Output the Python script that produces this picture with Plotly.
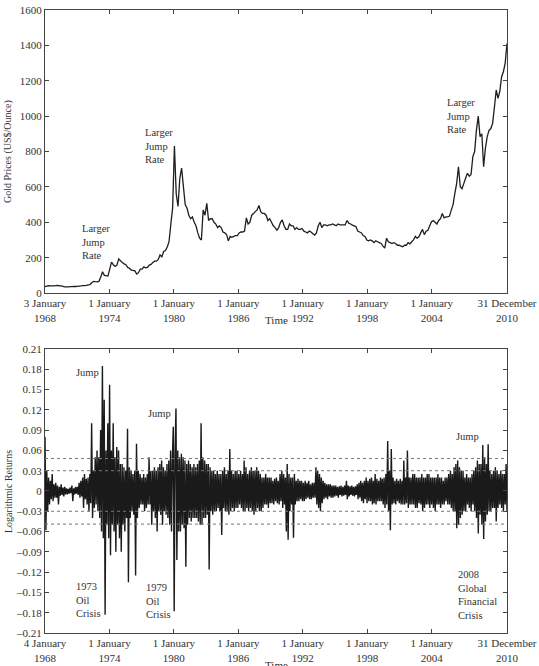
import pandas as pd
import plotly.graph_objects as go

# ---------------- data ----------------
price_start, price_end = "1968-01-03", "2010-12-31"
# gold price (US$/ounce), read roughly every two months, one row per year
gold_prices = [
    36, 39, 41, 40, 40, 41,          # 1968
    42, 43, 41, 40, 38, 35,          # 1969
    35, 35, 36, 36, 37, 37,          # 1970
    38, 39, 40, 42, 42, 43,          # 1971
    46, 48, 58, 66, 64, 63,          # 1972
    66, 90, 120, 100, 98, 96,        # 1973
    135, 175, 160, 150, 158, 192,    # 1974
    182, 172, 165, 160, 145, 140,    # 1975
    130, 128, 125, 107, 115, 135,    # 1976
    135, 148, 142, 145, 158, 162,    # 1977
    172, 180, 180, 190, 215, 205,    # 1978
    235, 240, 260, 290, 390, 480,    # 1979
    831, 560, 490, 650, 706, 600,    # 1980
    500, 480, 440, 420, 430, 400,    # 1981
    380, 340, 310, 300, 470, 440,    # 1982
    507, 410, 420, 420, 400, 390,    # 1983
    370, 380, 370, 345, 340, 330,    # 1984
    295, 320, 315, 320, 325, 325,    # 1985
    340, 345, 345, 350, 425, 390,    # 1986
    400, 440, 450, 460, 470, 495,    # 1987
    460, 450, 450, 440, 410, 420,    # 1988
    400, 380, 370, 356, 370, 400,    # 1989
    413, 380, 360, 360, 390, 380,    # 1990
    380, 360, 370, 360, 360, 365,    # 1991
    350, 345, 340, 350, 345, 335,    # 1992
    328, 340, 380, 400, 370, 385,    # 1993
    385, 380, 385, 385, 390, 385,    # 1994
    380, 390, 385, 385, 385, 385,    # 1995
    410, 395, 390, 384, 380, 375,    # 1996
    350, 345, 340, 325, 320, 300,    # 1997
    295, 300, 295, 285, 295, 290,    # 1998
    285, 280, 265, 254, 310, 290,    # 1999
    285, 280, 285, 280, 270, 270,    # 2000
    265, 262, 270, 270, 285, 278,    # 2001
    290, 300, 320, 310, 318, 340,    # 2002
    360, 330, 350, 355, 380, 403,    # 2003
    410, 400, 390, 410, 420, 450,    # 2004
    425, 430, 430, 435, 469, 500,    # 2005
    564, 620, 714, 601, 590, 620,    # 2006
    650, 677, 660, 670, 771, 800,    # 2007
    921, 1000, 884, 900, 714, 820,   # 2008
    884, 920, 930, 959, 1050, 1148,  # 2009
    1100, 1140, 1223, 1251, 1300, 1411,  # 2010
]

returns_start, returns_end = "1968-01-04", "2010-12-31"
# logarithmic returns, read roughly monthly, one row per year
log_returns = [
    0.080, -0.058, 0.030, -0.030, 0.020, -0.020, 0.015, -0.012, 0.025, -0.015, 0.010, -0.010,   # 1968
    0.012, -0.010, 0.008, -0.020, 0.006, -0.007, 0.010, -0.006, 0.005, -0.008, 0.006, -0.005,   # 1969
    0.004, -0.005, 0.003, -0.004, 0.005, -0.003, 0.008, -0.015, 0.004, -0.005, 0.006, -0.004,   # 1970
    0.006, -0.006, 0.012, -0.010, 0.015, -0.008, 0.020, -0.025, 0.025, -0.012, 0.018, -0.020,   # 1971
    0.020, -0.030, 0.025, -0.018, 0.100, -0.040, 0.030, -0.025, 0.050, -0.020, 0.060, -0.030,   # 1972
    0.050, -0.040, 0.090, -0.060, 0.185, -0.070, 0.135, -0.183, 0.060, -0.050, 0.100, -0.070,   # 1973
    0.157, -0.095, 0.060, -0.050, 0.100, -0.060, 0.050, -0.090, 0.065, -0.050, 0.060, -0.070,   # 1974
    0.040, -0.090, 0.040, -0.050, 0.035, -0.060, 0.030, -0.040, 0.092, -0.135, 0.035, -0.040,   # 1975
    0.030, -0.030, 0.025, -0.035, 0.030, -0.125, 0.070, -0.040, 0.030, -0.025, 0.025, -0.020,   # 1976
    0.020, -0.020, 0.025, -0.030, 0.020, -0.025, 0.025, -0.020, 0.050, -0.020, 0.030, -0.050,   # 1977
    0.030, -0.030, 0.035, -0.040, 0.030, -0.060, 0.035, -0.030, 0.040, -0.035, 0.045, -0.050,   # 1978
    0.035, -0.030, 0.030, -0.035, 0.040, -0.040, 0.045, -0.050, 0.060, -0.060, 0.050, 0.095,    # 1979
    -0.178, 0.060, 0.122, -0.102, 0.060, -0.060, 0.050, -0.060, 0.055, -0.050, 0.050, -0.055,   # 1980
    0.045, -0.112, 0.040, -0.050, 0.045, -0.040, 0.040, -0.045, 0.035, -0.040, 0.040, -0.040,   # 1981
    0.035, -0.040, 0.040, -0.045, 0.045, -0.050, 0.100, -0.050, 0.050, -0.040, 0.045, -0.040,   # 1982
    0.040, -0.035, 0.040, -0.116, 0.035, -0.030, 0.030, -0.035, 0.030, -0.030, 0.025, -0.030,   # 1983
    0.030, -0.025, 0.025, -0.030, 0.025, -0.065, 0.030, -0.025, 0.035, -0.030, 0.025, -0.030,   # 1984
    0.030, -0.035, 0.062, -0.030, 0.030, -0.025, 0.025, -0.030, 0.030, -0.025, 0.030, -0.025,   # 1985
    0.025, -0.020, 0.030, -0.025, 0.025, -0.030, 0.045, -0.030, 0.035, -0.025, 0.025, -0.030,   # 1986
    0.030, -0.025, 0.035, -0.030, 0.030, -0.035, 0.030, -0.030, 0.035, -0.025, 0.030, -0.030,   # 1987
    0.025, -0.030, 0.020, -0.025, 0.020, -0.020, 0.025, -0.020, 0.020, -0.025, 0.020, -0.018,   # 1988
    0.020, -0.018, 0.015, -0.020, 0.018, -0.015, 0.020, -0.018, 0.015, -0.020, 0.025, -0.015,   # 1989
    0.030, -0.025, 0.025, -0.020, 0.020, -0.060, 0.040, -0.072, 0.025, -0.030, 0.020, -0.020,   # 1990
    0.020, -0.069, 0.025, -0.020, 0.015, -0.015, 0.018, -0.015, 0.015, -0.012, 0.015, -0.015,   # 1991
    0.012, -0.015, 0.015, -0.012, 0.012, -0.010, 0.015, -0.012, 0.010, -0.012, 0.012, -0.010,   # 1992
    0.012, -0.010, 0.035, -0.020, 0.030, -0.025, 0.025, -0.030, 0.020, -0.018, 0.015, -0.012,   # 1993
    0.012, -0.010, 0.010, -0.012, 0.010, -0.008, 0.010, -0.010, 0.008, -0.010, 0.008, -0.008,   # 1994
    0.008, -0.007, 0.006, -0.010, 0.007, -0.006, 0.008, -0.008, 0.006, -0.007, 0.008, -0.006,   # 1995
    0.015, -0.012, 0.008, -0.008, 0.007, -0.006, 0.008, -0.007, 0.006, -0.008, 0.007, -0.006,   # 1996
    0.010, -0.012, 0.012, -0.010, 0.015, -0.015, 0.012, -0.018, 0.015, -0.012, 0.020, -0.018,   # 1997
    0.015, -0.015, 0.018, -0.015, 0.020, -0.020, 0.015, -0.018, 0.025, -0.020, 0.018, -0.015,   # 1998
    0.015, -0.015, 0.020, -0.015, 0.018, -0.020, 0.020, -0.025, 0.025, -0.020, 0.074, -0.030,   # 1999
    0.030, -0.058, 0.062, -0.020, 0.020, -0.018, 0.015, -0.020, 0.018, -0.015, 0.015, -0.018,   # 2000
    0.018, -0.020, 0.015, -0.020, 0.045, -0.020, 0.020, -0.018, 0.060, -0.025, 0.020, -0.020,   # 2001
    0.020, -0.020, 0.025, -0.020, 0.025, -0.025, 0.020, -0.025, 0.020, -0.018, 0.020, -0.020,   # 2002
    0.025, -0.030, 0.020, -0.025, 0.020, -0.020, 0.025, -0.020, 0.025, -0.025, 0.020, -0.020,   # 2003
    0.020, -0.025, 0.020, -0.030, 0.020, -0.020, 0.025, -0.020, 0.020, -0.025, 0.020, -0.020,   # 2004
    0.015, -0.020, 0.020, -0.015, 0.020, -0.020, 0.025, -0.020, 0.030, -0.025, 0.025, -0.030,   # 2005
    0.035, -0.030, 0.040, -0.055, 0.045, -0.050, 0.035, -0.040, 0.030, -0.035, 0.030, -0.030,   # 2006
    0.020, -0.030, 0.025, -0.020, 0.020, -0.025, 0.020, -0.030, 0.025, -0.020, 0.030, -0.030,   # 2007
    0.035, -0.040, 0.045, -0.063, 0.040, -0.035, 0.040, -0.050, 0.068, -0.071, 0.050, -0.045,   # 2008
    0.040, -0.035, 0.069, -0.030, 0.030, -0.030, 0.025, -0.025, 0.030, -0.025, 0.035, -0.045,   # 2009
    0.030, -0.025, 0.025, -0.020, 0.030, -0.025, 0.025, -0.030, 0.025, -0.020, 0.040, -0.030,   # 2010
]

threshold_levels = [0.048, 0.03, -0.03, -0.049]

tick_dates_top = ["1968-01-03", "1974-01-01", "1980-01-01", "1986-01-01", "1992-01-01",
                  "1998-01-01", "2004-01-01", "2010-12-31"]
tick_text_top = ["3 January<br>1968", "1 January<br>1974", "1 January<br>1980", "1 January<br>1986",
                 "1 January<br>1992", "1 January<br>1998", "1 January<br>2004", "31 December<br>2010"]
tick_dates_bottom = ["1968-01-04"] + tick_dates_top[1:]
tick_text_bottom = ["4 January<br>1968"] + tick_text_top[1:]

price_ticks = [0, 200, 400, 600, 800, 1000, 1200, 1400, 1600]
return_ticks = [-0.21, -0.18, -0.15, -0.12, -0.09, -0.06, -0.03, 0, 0.03, 0.06, 0.09, 0.12, 0.15, 0.18, 0.21]
return_tick_text = [("0" if v == 0 else f"{v:.2f}".replace("-", "\u2013")) for v in return_ticks]

# annotations: (text, date, value)
price_notes = [
    ("Larger<br>Jump<br>Rate", "1971-04-05", 288),
    ("Larger<br>Jump<br>Rate", "1977-02-20", 831),
    ("Larger<br>Jump<br>Rate", "2005-03-20", 1001),
]
return_notes = [
    ("Jump", "1970-09-13", 0.1746),
    ("Jump", "1977-05-27", 0.114),
    ("Jump", "2006-01-12", 0.080),
    ("1973<br>Oil<br>Crisis", "1970-09-13", -0.161),
    ("1979<br>Oil<br>Crisis", "1977-03-29", -0.163),
    ("2008<br>Global<br>Financial<br>Crisis", "2006-04-01", -0.154),
]

# ---------------- figure ----------------
FONT = "Liberation Serif, Times New Roman, serif"
TXT = "#333333"
AX = "#444444"

price_dates = pd.date_range(price_start, price_end, periods=len(gold_prices))
return_dates = pd.date_range(returns_start, returns_end, periods=len(log_returns))

fig = go.Figure()
fig.add_trace(go.Scatter(x=price_dates, y=gold_prices, mode="lines",
                         line=dict(color="#1e1e1e", width=1.3, simplify=False), xaxis="x", yaxis="y",
                         showlegend=False, hoverinfo="skip"))
fig.add_trace(go.Scatter(x=return_dates, y=log_returns, mode="lines",
                         line=dict(color="#1a1a1a", width=1.4, simplify=False), xaxis="x2", yaxis="y2",
                         showlegend=False, hoverinfo="skip"))

for lvl in threshold_levels:
    fig.add_shape(type="line", xref="x2 domain", yref="y2", x0=0, x1=1, y0=lvl, y1=lvl,
                  line=dict(color="#777777", width=1, dash="dot"))

common_x = dict(showline=True, linecolor=AX, linewidth=1, mirror="ticks", ticks="inside",
                ticklen=4, tickcolor=AX, showgrid=False, zeroline=False, automargin=False,
                tickfont=dict(family=FONT, size=11, color=TXT), tickangle=0)
common_y = dict(showline=True, linecolor=AX, linewidth=1, mirror="ticks", ticks="inside",
                ticklen=4, tickcolor=AX, showgrid=False, zeroline=False, automargin=False,
                tickfont=dict(family=FONT, size=11, color=TXT))

fig.update_layout(
    width=539, height=666, autosize=False,
    margin=dict(l=45, r=32, t=10, b=33, autoexpand=False),
    paper_bgcolor="white", plot_bgcolor="white",
    font=dict(family=FONT, size=11, color=TXT),
    xaxis=dict(domain=[0, 1], anchor="y", range=[price_start, price_end],
               tickvals=tick_dates_top, ticktext=tick_text_top, **common_x),
    yaxis=dict(domain=[0.5457, 1], anchor="x", range=[0, 1600],
               tickvals=price_ticks, **common_y),
    xaxis2=dict(domain=[0, 1], anchor="y2", range=[returns_start, returns_end],
                tickvals=tick_dates_bottom, ticktext=tick_text_bottom, **common_x),
    yaxis2=dict(domain=[0, 0.4559], anchor="x2", range=[-0.21, 0.21],
                tickvals=return_ticks, ticktext=return_tick_text, **common_y),
)

notes = []
for text, d, v in price_notes:
    notes.append(dict(text=text, x=d, y=v, xref="x", yref="y", showarrow=False,
                      xanchor="left", yanchor="middle", align="left",
                      font=dict(family=FONT, size=10.5, color=TXT)))
for text, d, v in return_notes:
    notes.append(dict(text=text, x=d, y=v, xref="x2", yref="y2", showarrow=False,
                      xanchor="left", yanchor="middle", align="left",
                      font=dict(family=FONT, size=10.5, color=TXT)))
# axis titles
notes.append(dict(text="Time", x=0.5, y=(633 - 320) / 623, xref="paper", yref="paper",
                  showarrow=False, xanchor="center", yanchor="middle",
                  font=dict(family=FONT, size=11, color=TXT)))
notes.append(dict(text="Time", x=0.5, y=(633 - 665) / 623, xref="paper", yref="paper",
                  showarrow=False, xanchor="center", yanchor="middle",
                  font=dict(family=FONT, size=11, color=TXT)))
notes.append(dict(text="Gold Prices (US$/Ounce)", x=(8 - 45) / 462, y=(633 - 152) / 623,
                  xref="paper", yref="paper", showarrow=False, textangle=-90,
                  xanchor="center", yanchor="middle",
                  font=dict(family=FONT, size=10, color=TXT)))
notes.append(dict(text="Logarithmic Returns", x=(8 - 45) / 462, y=(633 - 492) / 623,
                  xref="paper", yref="paper", showarrow=False, textangle=-90,
                  xanchor="center", yanchor="middle",
                  font=dict(family=FONT, size=10, color=TXT)))
fig.update_layout(annotations=notes)

fig.write_html("out.html")
